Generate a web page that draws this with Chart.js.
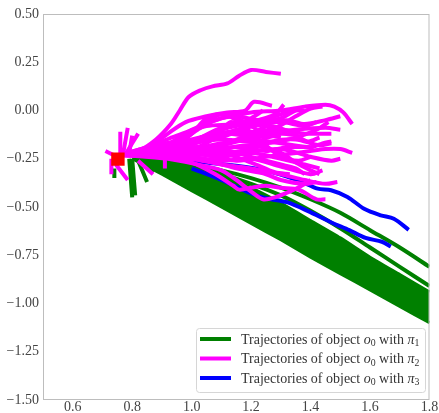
<!DOCTYPE html>
<html lang="en">
  <head>
    <meta charset="UTF-8" />
    <title>Object trajectories</title>
    <script src="https://cdn.jsdelivr.net/npm/chart.js"></script>
    <style>
      body { margin: 0; background: #fff; }
    </style>
  </head>
  <body>
    <canvas id="trajChart" width="439" height="413"></canvas>
    <script>
      // axis ticks
      const xTicks = [0.6, 0.8, 1.0, 1.2, 1.4, 1.6, 1.8];
      const yTicks = [0.5, 0.25, 0, -0.25, -0.5, -0.75, -1.0, -1.25, -1.5];

      // start position of the object (red square)
      const startPoint = [0.752, -0.252];

      // pi_1: dense fan of trajectories, given as its upper and lower edge
      const bandX      = [0.80, 0.90, 1.00, 1.10, 1.20, 1.30, 1.40, 1.50, 1.60, 1.70, 1.80];
      const bandTop    = [-0.24, -0.25, -0.27, -0.33, -0.40, -0.48, -0.57, -0.66, -0.76, -0.85, -0.94];
      const bandBottom = [-0.25, -0.33, -0.415, -0.50, -0.585, -0.67, -0.76, -0.845, -0.93, -1.015, -1.10];

      // pi_1: separate trajectories
      const greenLines = [
        [[0.9,-0.25],[1.0,-0.28],[1.1,-0.31],[1.2,-0.35],[1.3,-0.40],[1.4,-0.46],[1.5,-0.53],[1.6,-0.62],[1.7,-0.71],[1.8,-0.81]],
        [[0.9,-0.26],[1.0,-0.29],[1.1,-0.33],[1.2,-0.38],[1.3,-0.44],[1.4,-0.52],[1.5,-0.61],[1.6,-0.71],[1.7,-0.81],[1.8,-0.91]],
        [[0.79,-0.25],[0.80,-0.45]],
        [[0.80,-0.25],[0.81,-0.44]],
        [[0.82,-0.26],[0.85,-0.37]],
        [[0.83,-0.25],[0.87,-0.32]],
        [[0.74,-0.30],[0.74,-0.35]]
      ];

      // pi_3
      const blueLines = [
        [[1.0,-0.26],[1.024,-0.266],[1.136,-0.284],[1.247,-0.31],[1.358,-0.362],[1.424,-0.405],[1.469,-0.413],[1.524,-0.448],[1.58,-0.509],[1.636,-0.543],[1.68,-0.561],[1.73,-0.618]],
        [[1.0,-0.30],[1.1,-0.36],[1.2,-0.43],[1.25,-0.455],[1.32,-0.475],[1.39,-0.52],[1.47,-0.58],[1.53,-0.62],[1.585,-0.66],[1.64,-0.68],[1.67,-0.705]]
      ];

      // pi_2
      const magentaLines = [
        [[0.76,-0.23],[0.82,-0.21],[0.88,-0.15],[0.93,-0.07],[0.96,0.0],[0.99,0.07],[1.03,0.105],[1.07,0.125],[1.12,0.14],[1.16,0.18],[1.2,0.21],[1.25,0.2],[1.3,0.19]],
        [[0.76,-0.23],[0.85,-0.2],[0.92,-0.12],[0.98,-0.06],[1.05,-0.03],[1.12,-0.01],[1.18,0.0],[1.21,0.045],[1.27,0.025]],
        [[0.76,-0.23],[0.9,-0.19],[1.0,-0.1],[1.1,-0.04],[1.2,-0.01],[1.3,0.0],[1.38,0.02],[1.45,0.03],[1.48,0.02],[1.51,-0.01],[1.54,-0.07]],
        [[0.76,-0.23],[0.88,-0.2],[0.97,-0.14],[1.05,-0.06],[1.1,-0.02],[1.15,-0.05],[1.2,-0.11],[1.28,-0.09],[1.35,-0.03],[1.4,0.01],[1.44,0.02]],
        [[0.76,-0.23],[0.9,-0.2],[1.0,-0.15],[1.1,-0.12],[1.2,-0.13],[1.3,-0.1],[1.38,-0.12],[1.44,-0.12],[1.47,-0.12]],
        [[0.76,-0.23],[0.9,-0.21],[1.0,-0.2],[1.1,-0.17],[1.2,-0.15],[1.3,-0.17],[1.4,-0.19],[1.44,-0.17],[1.47,-0.16]],
        [[0.76,-0.23],[0.9,-0.22],[1.0,-0.22],[1.1,-0.24],[1.2,-0.22],[1.3,-0.25],[1.38,-0.28],[1.43,-0.3]],
        [[0.76,-0.23],[0.9,-0.23],[1.0,-0.25],[1.1,-0.28],[1.2,-0.3],[1.3,-0.33],[1.38,-0.36],[1.45,-0.38],[1.49,-0.37]],
        [[0.76,-0.23],[0.9,-0.24],[1.0,-0.27],[1.08,-0.33],[1.14,-0.39],[1.16,-0.41],[1.2,-0.4],[1.25,-0.39],[1.3,-0.4],[1.36,-0.41],[1.42,-0.46],[1.45,-0.46]],
        [[0.76,-0.23],[0.92,-0.25],[1.02,-0.28],[1.1,-0.31],[1.15,-0.36],[1.2,-0.42],[1.24,-0.46],[1.28,-0.45],[1.33,-0.42],[1.37,-0.39],[1.4,-0.36]],
        [[0.76,-0.23],[0.9,-0.21],[1.0,-0.18],[1.1,-0.1],[1.15,-0.08],[1.22,-0.06],[1.3,-0.04],[1.35,0.0],[1.38,0.0]],
        [[0.76,-0.23],[0.9,-0.2],[1.0,-0.17],[1.1,-0.14],[1.2,-0.08],[1.3,-0.06],[1.38,-0.08],[1.42,-0.06]],
        [[0.76,-0.23],[0.95,-0.21],[1.05,-0.2],[1.15,-0.19],[1.25,-0.21],[1.32,-0.19],[1.4,-0.19],[1.41,-0.19]],
        [[0.76,-0.23],[1.0,-0.22],[1.15,-0.26],[1.25,-0.24],[1.35,-0.22],[1.45,-0.2],[1.5,-0.2],[1.54,-0.22]],
        [[0.76,-0.23],[0.95,-0.23],[1.1,-0.2],[1.2,-0.18],[1.3,-0.22],[1.35,-0.27],[1.4,-0.31],[1.43,-0.33]],
        [[0.76,-0.23],[0.9,-0.22],[1.0,-0.24],[1.1,-0.26],[1.2,-0.25],[1.3,-0.29],[1.4,-0.33],[1.44,-0.31]],
        [[0.76,-0.23],[0.92,-0.2],[1.05,-0.13],[1.15,-0.11],[1.25,-0.14],[1.3,-0.12],[1.36,-0.13]],
        [[0.76,-0.23],[0.93,-0.19],[1.02,-0.1],[1.08,-0.05],[1.15,-0.03],[1.23,-0.05],[1.3,-0.02],[1.33,0.0]],
        [[0.76,-0.23],[0.95,-0.22],[1.08,-0.21],[1.2,-0.27],[1.28,-0.32],[1.33,-0.33]],
        [[0.76,-0.23],[0.9,-0.24],[1.05,-0.26],[1.15,-0.3],[1.25,-0.33],[1.3,-0.36],[1.38,-0.38],[1.42,-0.37]],
        [[0.76,-0.23],[0.88,-0.18],[0.95,-0.16],[1.05,-0.15],[1.15,-0.1],[1.25,-0.07],[1.32,-0.05],[1.38,-0.07],[1.45,-0.05],[1.5,-0.03]],
        [[0.76,-0.23],[0.85,-0.19],[0.95,-0.13],[1.05,-0.08],[1.15,-0.07],[1.2,-0.04],[1.24,0.0]],
        [[0.76,-0.23],[1.0,-0.21],[1.1,-0.22],[1.2,-0.2],[1.27,-0.16],[1.35,-0.15],[1.43,-0.18],[1.47,-0.17]],
        [[0.76,-0.23],[0.9,-0.22],[1.0,-0.19],[1.1,-0.2],[1.2,-0.24],[1.3,-0.28],[1.35,-0.3],[1.38,-0.33]],
        [[0.76,-0.23],[0.9,-0.2],[1.0,-0.16],[1.1,-0.09],[1.2,-0.06],[1.28,-0.02],[1.31,0.03]],
        [[0.76,-0.23],[0.95,-0.2],[1.1,-0.18],[1.25,-0.12],[1.35,-0.1],[1.45,-0.09],[1.5,-0.1]],
        [[0.76,-0.23],[1.0,-0.23],[1.15,-0.22],[1.3,-0.2],[1.4,-0.24],[1.47,-0.26],[1.5,-0.25]],
        [[0.76,-0.23],[0.95,-0.18],[1.1,-0.15],[1.25,-0.17],[1.35,-0.14],[1.42,-0.1],[1.46,-0.06]],
        [[0.76,-0.23],[0.9,-0.22],[1.0,-0.2],[1.08,-0.14],[1.13,-0.06],[1.18,-0.1],[1.25,-0.18],[1.3,-0.24],[1.36,-0.26],[1.4,-0.24]],
        [[0.76,-0.23],[0.95,-0.24],[1.05,-0.22],[1.12,-0.17],[1.2,-0.12],[1.26,-0.08],[1.33,-0.11],[1.39,-0.16],[1.43,-0.14]],
        [[0.76,-0.23],[0.92,-0.21],[1.0,-0.12],[1.05,-0.04],[1.1,-0.02],[1.18,-0.06],[1.24,-0.12],[1.3,-0.14]],
        // short strokes around the start
        [[0.75,-0.24],[0.71,-0.21]],
        [[0.76,-0.23],[0.76,-0.11]],
        [[0.77,-0.22],[0.785,-0.09]],
        [[0.78,-0.22],[0.82,-0.12]],
        [[0.79,-0.22],[0.80,-0.13]],
        [[0.73,-0.25],[0.73,-0.33]],
        [[0.745,-0.28],[0.785,-0.36]],
        [[0.82,-0.26],[0.87,-0.33]],
        [[0.91,-0.25],[0.91,-0.30]]
      ];

      const legendColors = ['#008000', '#ff00ff', '#0000ff'];
      const legendIndex = ['1', '2', '3'];

      const toPts = arr => arr.map(p => ({ x: p[0], y: p[1] }));
      const datasets = [];

      // lower "order" is drawn on top: green 4, blue 3, magenta 2, start 1
      datasets.push({
        data: bandX.map((x, i) => ({ x: x, y: bandBottom[i] })),
        borderColor: '#008000', backgroundColor: '#008000',
        borderWidth: 3, fill: '+1', tension: 0.2, order: 4
      });
      datasets.push({
        data: bandX.map((x, i) => ({ x: x, y: bandTop[i] })),
        borderColor: '#008000', borderWidth: 3, fill: false, tension: 0.2, order: 4
      });
      greenLines.forEach(l => datasets.push({
        data: toPts(l), borderColor: '#008000', borderWidth: 4, fill: false, tension: 0.3, order: 4
      }));
      blueLines.forEach(l => datasets.push({
        data: toPts(l), borderColor: '#0000ff', borderWidth: 4, fill: false, tension: 0.3, order: 3
      }));
      magentaLines.forEach(l => datasets.push({
        data: toPts(l), borderColor: '#ff00ff', borderWidth: 4, fill: false, tension: 0.3, order: 2
      }));
      datasets.push({
        data: [{ x: startPoint[0], y: startPoint[1] }],
        showLine: false, pointStyle: 'rect', pointRadius: 9.5,
        backgroundColor: '#ff0000', borderWidth: 0, order: 1
      });

      // box around the plot
      const frame = {
        id: 'frame',
        afterDatasetsDraw(chart) {
          const a = chart.chartArea, ctx = chart.ctx;
          ctx.save();
          ctx.strokeStyle = '#bdbdbd';
          ctx.lineWidth = 1;
          ctx.strokeRect(a.left + 0.5, a.top + 0.5, a.right - a.left - 1, a.bottom - a.top - 1);
          ctx.restore();
        }
      };

      // legend box at lower right, with math-style labels
      const mathLegend = {
        id: 'mathLegend',
        afterDraw(chart) {
          const ctx = chart.ctx;
          const bx = 196, by = 328, bw = 229, bh = 64;
          ctx.save();
          ctx.beginPath();
          ctx.roundRect(bx + 0.5, by + 0.5, bw, bh, 3);
          ctx.fillStyle = 'rgba(255,255,255,0.85)';
          ctx.fill();
          ctx.strokeStyle = '#d6d6d6';
          ctx.lineWidth = 1;
          ctx.stroke();
          const f = 14;
          legendColors.forEach((c, i) => {
            const yc = 339 + i * 19.5;
            ctx.strokeStyle = c;
            ctx.lineWidth = 4;
            ctx.beginPath();
            ctx.moveTo(200, yc);
            ctx.lineTo(231, yc);
            ctx.stroke();
            const segs = [
              ['Trajectories of object ', ''], ['o', 'italic '], ['0', 'sub'],
              [' with ', ''], ['\u03c0', 'italic '], [legendIndex[i], 'sub']
            ];
            let x = 241;
            const base = yc + 4.5;
            ctx.fillStyle = '#333';
            ctx.textBaseline = 'alphabetic';
            segs.forEach(s => {
              if (s[1] === 'sub') {
                ctx.font = (f * 0.7) + 'px "Liberation Serif"';
                ctx.fillText(s[0], x, base + 2.5);
              } else {
                ctx.font = s[1] + f + 'px "Liberation Serif"';
                ctx.fillText(s[0], x, base);
              }
              x += ctx.measureText(s[0]).width;
            });
          });
          ctx.restore();
        }
      };

      const tickFont = { family: '"Liberation Serif"', size: 14 };

      new Chart(document.getElementById('trajChart').getContext('2d'), {
        type: 'line',
        data: { datasets: datasets },
        options: {
          responsive: false,
          animation: false,
          devicePixelRatio: 1,
          layout: { padding: { top: 14, right: 7, left: 0, bottom: 0 } },
          elements: { point: { radius: 0 } },
          plugins: { legend: { display: false }, tooltip: { enabled: false } },
          scales: {
            x: {
              type: 'linear', min: 0.5, max: 1.8,
              grid: { display: false, drawTicks: false },
              border: { display: false },
              ticks: { font: tickFont, color: '#444', padding: -1, maxRotation: 0,
                       callback: v => v.toFixed(1) },
              afterBuildTicks: s => { s.ticks = xTicks.map(v => ({ value: v })); },
              afterFit: s => { s.height = 13; }
            },
            y: {
              type: 'linear', min: -1.5, max: 0.5,
              grid: { display: false, drawTicks: false },
              border: { display: false },
              ticks: { font: tickFont, color: '#444', padding: 4,
                       callback: v => v.toFixed(2).replace('-', '\u2212') },
              afterBuildTicks: s => { s.ticks = yTicks.map(v => ({ value: v })); },
              afterFit: s => { s.width = 43; }
            }
          }
        },
        plugins: [frame, mathLegend]
      });
    </script>
  </body>
</html>
